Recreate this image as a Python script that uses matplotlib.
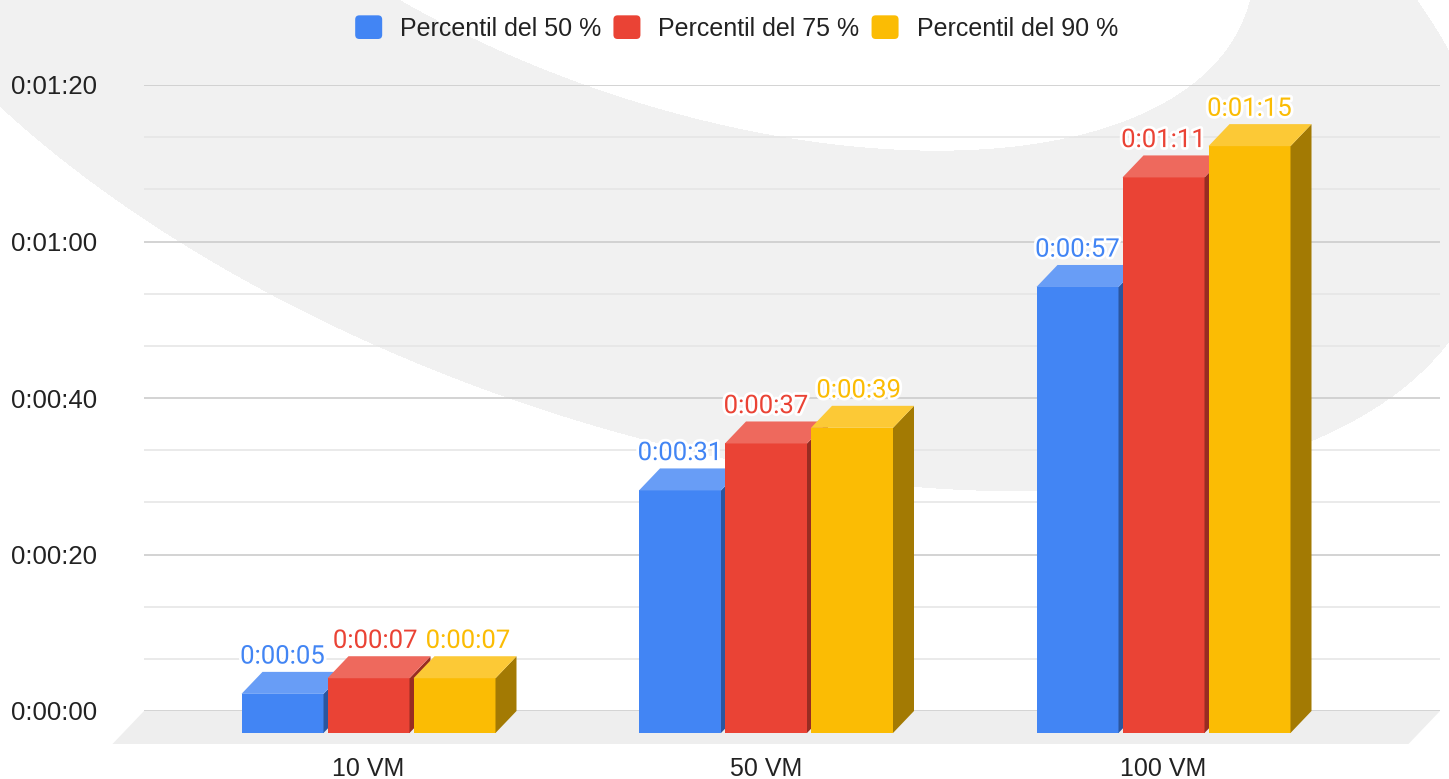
import numpy as np
import matplotlib.pyplot as plt
import matplotlib.patheffects as pe
from matplotlib.patches import Polygon, Patch, FancyBboxPatch
from matplotlib.legend_handler import HandlerPatch
from matplotlib.ticker import MultipleLocator
from matplotlib.colors import to_rgb

plt.rcParams['font.family'] = ['Liberation Sans', 'DejaVu Sans']

# values in seconds
categories = ['10 VM', '50 VM', '100 VM']
series = ['Percentil del 50 %', 'Percentil del 75 %', 'Percentil del 90 %']
p50 = [5, 31, 57]
p75 = [7, 37, 71]
p90 = [7, 39, 75]
colors = ['#4285F4', '#EA4335', '#FBBC04']
y_ticks = [0, 20, 40, 60, 80]


def hms(s):
    s = int(round(s))
    return f"{s // 3600}:{s % 3600 // 60:02d}:{s % 60:02d}"


def shade(c, k):
    return tuple(np.array(to_rgb(c)) * k)


def tint(c, k):
    r = np.array(to_rgb(c))
    return tuple(r + (1 - r) * k)


W, H = 1449, 779
fig = plt.figure(figsize=(W / 100, H / 100), dpi=100)

# background swoosh, two ellipses fitted to points sampled on their edges (pixels)
gray_edge = [(0, 105), (140, 218), (267, 293), (373, 347), (507, 397), (640, 433),
             (888, 487), (1022, 493), (1308, 443), (1385, 400), (1449, 340),
             (1449, 42), (1413, 0)]
white_edge = [(400, 0), (580, 83), (780, 137), (880, 148), (1000, 148),
              (1100, 130), (1197, 80), (1250, 0)]
yy, xx = np.mgrid[0:H, 0:W] + 0.5


def inside(edge):
    x, y = ((np.array(edge, float) - [900, 0]) / 1000).T
    c = np.linalg.lstsq(np.column_stack([x * x, x * y, y * y, x, y]),
                        np.ones_like(x), rcond=None)[0]
    X, Y = (xx - 900) / 1000, yy / 1000
    return c[0] * X * X + c[1] * X * Y + c[2] * Y * Y + c[3] * X + c[4] * Y < 1


bg = np.ones((H, W, 3))
bg[inside(gray_edge) & ~inside(white_edge)] = 0.949
bg_ax = fig.add_axes([0, 0, 1, 1])
bg_ax.imshow(bg, extent=(0, W, H, 0), aspect='auto', interpolation='bilinear')
bg_ax.axis('off')

# main axes = back wall of the 3d box
ax = fig.add_axes([144 / W, (H - 711) / H, 1296 / W, 626 / H])
ax.set_facecolor('none')
cat_px = 397.5
ax.set_xlim((144 - 368.5) / cat_px, (1440 - 368.5) / cat_px)
ax.set_ylim(0, 80)
for s in ax.spines.values():
    s.set_visible(False)

bw = 82 / cat_px
pitch = 86 / cat_px
ddx = 21 / cat_px
ddy = 22 * 80 / 626
x = np.arange(len(categories))

# floor
xl, xr = ax.get_xlim()
ax.add_patch(Polygon([(xl, 0), (xr, 0), (xr - 1.5 * ddx, -1.5 * ddy), (xl - 1.5 * ddx, -1.5 * ddy)],
                     fc='#eeeeee', ec='none', zorder=0.3, clip_on=False))

left = x - (2 * pitch + bw) / 2
labels = [[] for _ in categories]
for j, (vals, col) in enumerate(zip([p50, p75, p90], colors)):
    x0 = left + j * pitch
    z = 3 + j
    ax.bar(x0 + bw / 2, vals, width=bw, bottom=-ddy, color=col, zorder=z, clip_on=False)
    for i, (xi, v) in enumerate(zip(x0, vals)):
        ax.add_patch(Polygon([(xi + bw, -ddy), (xi + bw + ddx, 0), (xi + bw + ddx, v), (xi + bw, v - ddy)],
                             fc=shade(col, 0.65), ec='none', zorder=z, clip_on=False))
        ax.add_patch(Polygon([(xi, v - ddy), (xi + bw, v - ddy), (xi + bw + ddx, v), (xi + ddx, v)],
                             fc=tint(col, 0.2), ec='none', zorder=z, clip_on=False))
        labels[i].append(ax.annotate(hms(v), (xi + bw / 2, v), xytext=(0, 6), textcoords='offset points',
                                     ha='center', va='baseline', color=col, fontsize=18.5, family='Roboto',
                                     zorder=10, annotation_clip=False,
                                     path_effects=[pe.withStroke(linewidth=4, foreground='white')]))

ax.set_yticks(y_ticks, [hms(t) for t in y_ticks])
ax.yaxis.set_minor_locator(MultipleLocator(20 / 3))
ax.set_axisbelow(True)
ax.grid(axis='y', which='major', color='#cccccc', lw=1.2)
ax.grid(axis='y', which='minor', color='#e6e6e6', lw=1.2)
ax.set_xticks(x, categories)
ax.tick_params(which='both', length=0, colors='#222222')
ax.tick_params(axis='y', pad=33.8, labelsize=18.5)
ax.tick_params(axis='x', pad=33, labelsize=18)


class RoundBox(HandlerPatch):
    def create_artists(self, legend, orig, xd, yd, w, h, fontsize, trans):
        return [FancyBboxPatch((-xd, -yd), w, h, boxstyle='round,pad=0,rounding_size=3',
                               fc=orig.get_facecolor(), ec='none', transform=trans)]


handles = [Patch(fc=c) for c in colors]
fig.legend(handles, series, loc='center', bbox_to_anchor=(736.5 / W, 1 - 28 / H), ncol=3,
           frameon=False, fontsize=18, handlelength=1.08, handleheight=1.08,
           handletextpad=0.72, columnspacing=0.48, labelcolor='#222222',
           handler_map={Patch: RoundBox()})

# push value labels right when they collide with the previous one in the group
fig.canvas.draw()
rend = fig.canvas.get_renderer()
gap = 8
for group in labels:
    prev = None
    for ann in group:
        bb = ann.get_window_extent(rend)
        if prev is not None and bb.y0 < prev.y1 and bb.y1 > prev.y0 and bb.x0 < prev.x1 + gap:
            dx = prev.x1 + gap - bb.x0
            ann.xyann = (dx * 72 / fig.dpi, 6)
            bb = bb.translated(dx, 0)
        prev = bb

fig.savefig('out.png', dpi=100)
